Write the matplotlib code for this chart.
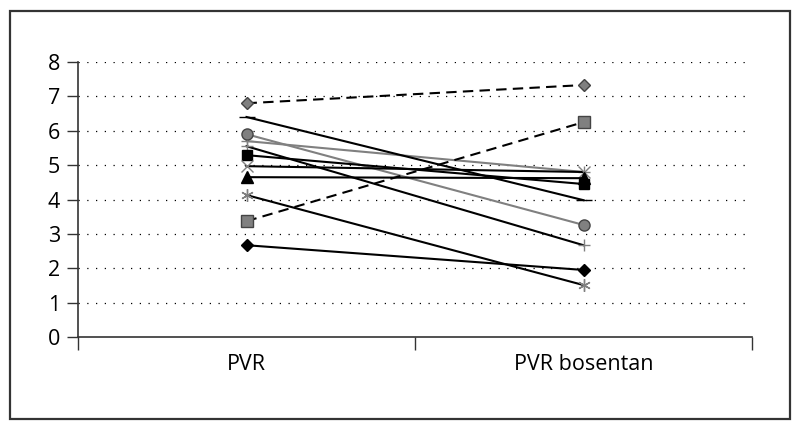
import matplotlib
matplotlib.use("Agg")
import matplotlib.pyplot as plt
from matplotlib.patches import Rectangle

plt.rcParams['font.family'] = ['Open Sans', 'DejaVu Sans']

categories = ["PVR", "PVR bosentan"]
y_ticks = [0, 1, 2, 3, 4, 5, 6, 7, 8]

# each series: (PVR, PVR bosentan)
s_diamond_gray = [6.80, 7.33]
s_square_gray = [3.37, 6.25]
s_diamond_black = [2.67, 1.95]
s_square_black = [5.29, 4.45]
s_triangle_black = [4.65, 4.62]
s_x_gray = [4.97, 4.80]
s_star_gray = [4.13, 1.51]
s_circle_gray = [5.90, 3.26]
s_plus_a = [5.70, 4.80]
s_plus_b = [5.55, 2.67]
s_dash = [6.40, 3.98]

fig = plt.figure(figsize=(8.0, 4.29), dpi=100)
fig.patches.append(Rectangle((9.5/800, 10.5/429), 780/800, 408/429,
                             transform=fig.transFigure, fill=False,
                             edgecolor='#333333', linewidth=1.6))
ax = fig.add_axes([78/800, (429-337)/429, 674/800, 275/429])

x = [0, 1]
G = '#808080'
# (values, marker, markerfacecolor, markeredgecolor, linecolor, linestyle, size)
series = [
    (s_plus_a, '+', G, G, G, '-', 9),
    (s_circle_gray, 'o', G, '#444444', G, '-', 8),
    (s_dash, '_', 'black', 'black', 'black', '-', 12),
    (s_plus_b, '+', G, G, 'black', '-', 9),
    (s_square_black, 's', 'black', 'black', 'black', '-', 7),
    (s_x_gray, 'x', G, G, 'black', '-', 8),
    (s_triangle_black, '^', 'black', 'black', 'black', '-', 8),
    (s_star_gray, (6, 2, 0), G, G, 'black', '-', 9),
    (s_diamond_black, 'D', 'black', 'black', 'black', '-', 6),
    (s_diamond_gray, 'D', G, '#444444', 'black', (0, (5, 3)), 6),
    (s_square_gray, 's', G, '#444444', 'black', (0, (5, 3)), 8),
]
for vals, mk, mfc, mec, lc, ls, sz in series:
    ax.plot(x, vals, color=lc, linestyle=ls, linewidth=1.5,
            marker=mk, markerfacecolor=mfc, markeredgecolor=mec,
            markersize=sz, markeredgewidth=1.0, zorder=3)

ax.set_xlim(-0.5, 1.5)
ax.set_ylim(0, 8)
ax.set_yticks(y_ticks)
ax.set_yticklabels([str(v) for v in y_ticks], fontsize=15.5)
for v in y_ticks[1:]:
    ax.axhline(v, color='black', linestyle=(0, (1, 6)), linewidth=0.9, zorder=1)

ax.set_xticks([-0.5, 0.5, 1.5])
ax.set_xticklabels([])
ax.tick_params(axis='x', direction='out', length=9, width=1, color='#333333')
ax.tick_params(axis='y', direction='out', length=8, width=1, color='#333333', pad=5)
for i, c in enumerate(categories):
    ax.text(i, -0.5, c, ha='center', va='top', fontsize=15.5,
            transform=ax.transData)

for s in ['top', 'right']:
    ax.spines[s].set_visible(False)
ax.spines['left'].set_color('#333333')
ax.spines['bottom'].set_color('#333333')
ax.spines['left'].set_linewidth(1.2)
ax.spines['bottom'].set_linewidth(1.2)

fig.savefig("out.png", dpi=100)
